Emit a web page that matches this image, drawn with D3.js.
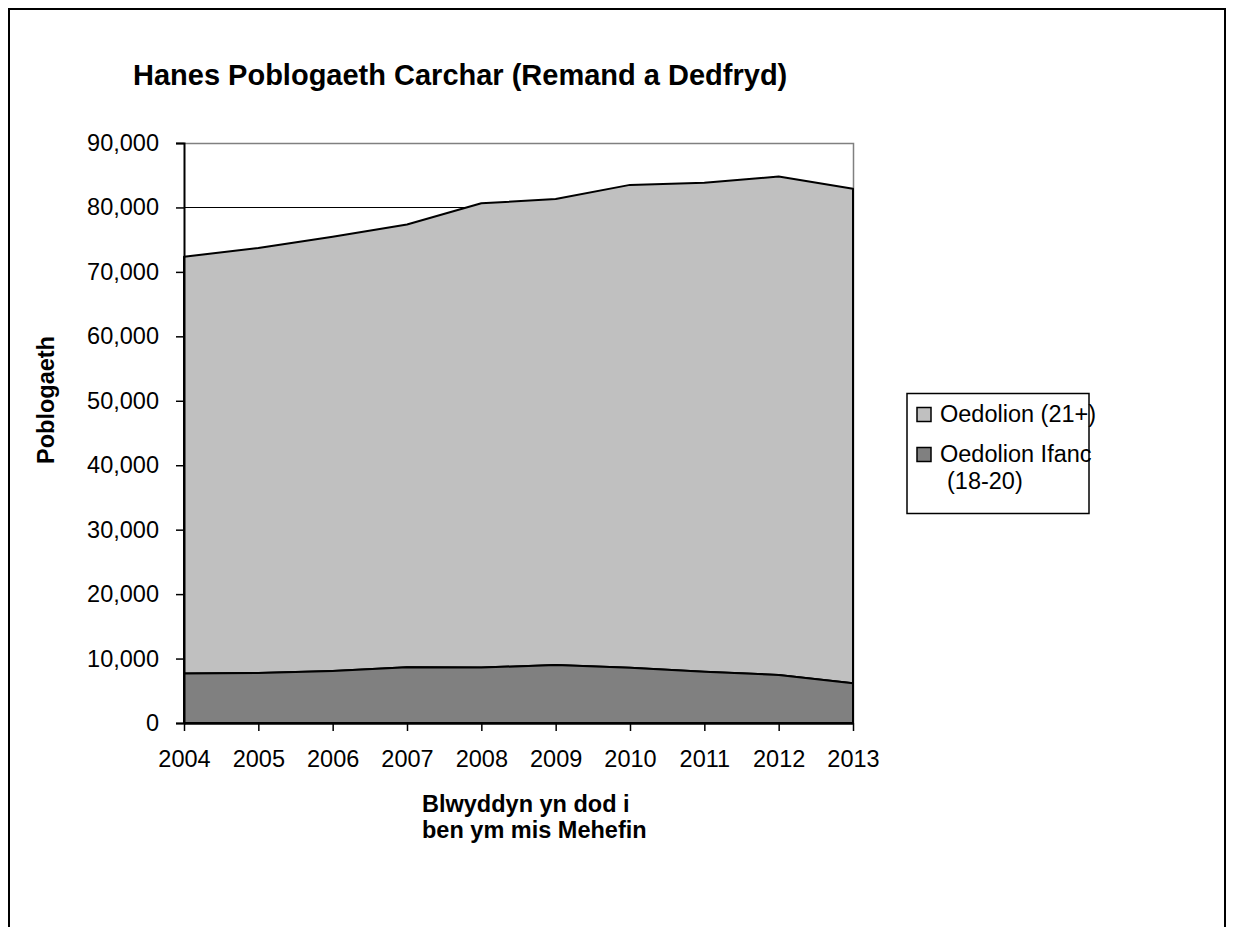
<!DOCTYPE html>
<html>
<head>
<meta charset="utf-8">
<script src="https://cdn.jsdelivr.net/npm/d3@7"></script>
<style>
  body { margin: 0; background: #fff; }
  text { font-family: "Liberation Sans", Arial, sans-serif; fill: #000; }
</style>
</head>
<body>
<div id="chart"></div>
<script>
// data
var years = ["2004", "2005", "2006", "2007", "2008", "2009", "2010", "2011", "2012", "2013"];
var youngAdults = [7700, 7750, 8070, 8640, 8600, 9000, 8580, 7960, 7450, 6160];
var adults = [64650, 65950, 67380, 68710, 72050, 72300, 74920, 75890, 77350, 76740];
var yTicks = [0, 10000, 20000, 30000, 40000, 50000, 60000, 70000, 80000, 90000];
var seriesNames = ["Oedolion (21+)", "Oedolion Ifanc (18-20)"];

var W = 1233, H = 927;
var plotLeft = 184, plotRight = 853, plotTop = 143, plotBottom = 723;

var svg = d3.select("#chart").append("svg")
  .attr("width", W)
  .attr("height", H);

// outer frame (bottom edge runs off the page)
svg.append("path")
  .attr("d", "M9,940V9H1225V940")
  .attr("fill", "none")
  .attr("stroke", "#000")
  .attr("stroke-width", 2);

var x = d3.scalePoint().domain(years).range([plotLeft, plotRight]);
var y = d3.scaleLinear().domain([0, 90000]).range([plotBottom, plotTop]);

// gridlines
svg.append("g")
  .selectAll("line")
  .data(yTicks.filter(function(d) { return d > 0; }))
  .enter().append("line")
    .attr("x1", plotLeft).attr("x2", plotRight)
    .attr("y1", function(d) { return y(d); })
    .attr("y2", function(d) { return y(d); })
    .attr("stroke", "#000")
    .attr("stroke-width", 1)
    .attr("shape-rendering", "crispEdges");

// plot area border (top / right)
svg.append("path")
  .attr("d", "M" + plotLeft + "," + (plotTop + 0.5) + "H" + (plotRight + 0.5) + "V" + plotBottom)
  .attr("fill", "none")
  .attr("stroke", "#808080")
  .attr("stroke-width", 1.5);

// stacked areas
var rows = years.map(function(yr, i) {
  return { year: yr, young: youngAdults[i], adult: adults[i] };
});
var stack = d3.stack().keys(["young", "adult"]);
var layers = stack(rows);
var fills = { young: "#808080", adult: "#c0c0c0" };

var area = d3.area()
  .x(function(d) { return x(d.data.year); })
  .y0(function(d) { return y(d[0]); })
  .y1(function(d) { return y(d[1]); });

svg.append("g")
  .selectAll("path")
  .data(layers.slice().reverse())
  .enter().append("path")
    .attr("d", area)
    .attr("fill", function(d) { return fills[d.key]; })
    .attr("stroke", "#000")
    .attr("stroke-width", 2)
    .attr("stroke-linejoin", "round");

// y axis
var yAxis = svg.append("g")
  .attr("transform", "translate(" + plotLeft + ",0)")
  .call(d3.axisLeft(y).tickValues(yTicks).tickSize(8).tickPadding(17)
    .tickFormat(d3.format(",")));
yAxis.select(".domain").attr("stroke", "#000").attr("stroke-width", 2);
yAxis.selectAll(".tick line").attr("stroke", "#000").attr("stroke-width", 1.5);
yAxis.selectAll("text").style("font-size", "23.5px");

// x axis
var xAxis = svg.append("g")
  .attr("transform", "translate(0," + plotBottom + ")")
  .call(d3.axisBottom(x).tickSizeInner(8).tickSizeOuter(0).tickPadding(19));
xAxis.select(".domain").attr("stroke", "#000").attr("stroke-width", 2.5);
xAxis.selectAll(".tick line").attr("stroke", "#000").attr("stroke-width", 1.5);
xAxis.selectAll("text").style("font-size", "23.5px");

// title
svg.append("text")
  .attr("x", 133).attr("y", 85)
  .style("font-size", "29px").style("font-weight", "bold")
  .text("Hanes Poblogaeth Carchar (Remand a Dedfryd)");

// axis titles
svg.append("text")
  .attr("transform", "translate(54,400)rotate(-90)")
  .attr("text-anchor", "middle")
  .style("font-size", "23.5px").style("font-weight", "bold")
  .text("Poblogaeth");

var xt = svg.append("text")
  .style("font-size", "23.5px").style("font-weight", "bold");
xt.append("tspan").attr("x", 422).attr("y", 812).text("Blwyddyn yn dod i");
xt.append("tspan").attr("x", 422).attr("y", 838).text("ben ym mis Mehefin");

// legend
var lg = svg.append("g");
lg.append("rect")
  .attr("x", 907).attr("y", 393.5).attr("width", 182).attr("height", 120)
  .attr("fill", "#fff").attr("stroke", "#000").attr("stroke-width", 1.5);

lg.append("rect")
  .attr("x", 917).attr("y", 407.5).attr("width", 14).attr("height", 14)
  .attr("fill", fills.adult).attr("stroke", "#000").attr("stroke-width", 1.5);
lg.append("text").attr("x", 940).attr("y", 422)
  .style("font-size", "23.5px").text(seriesNames[0]);

lg.append("rect")
  .attr("x", 917).attr("y", 447.5).attr("width", 14).attr("height", 14)
  .attr("fill", fills.young).attr("stroke", "#000").attr("stroke-width", 1.5);
var t2 = lg.append("text").style("font-size", "23.5px");
t2.append("tspan").attr("x", 940).attr("y", 462).text("Oedolion Ifanc");
t2.append("tspan").attr("x", 947).attr("y", 489).text("(18-20)");
</script>
</body>
</html>
